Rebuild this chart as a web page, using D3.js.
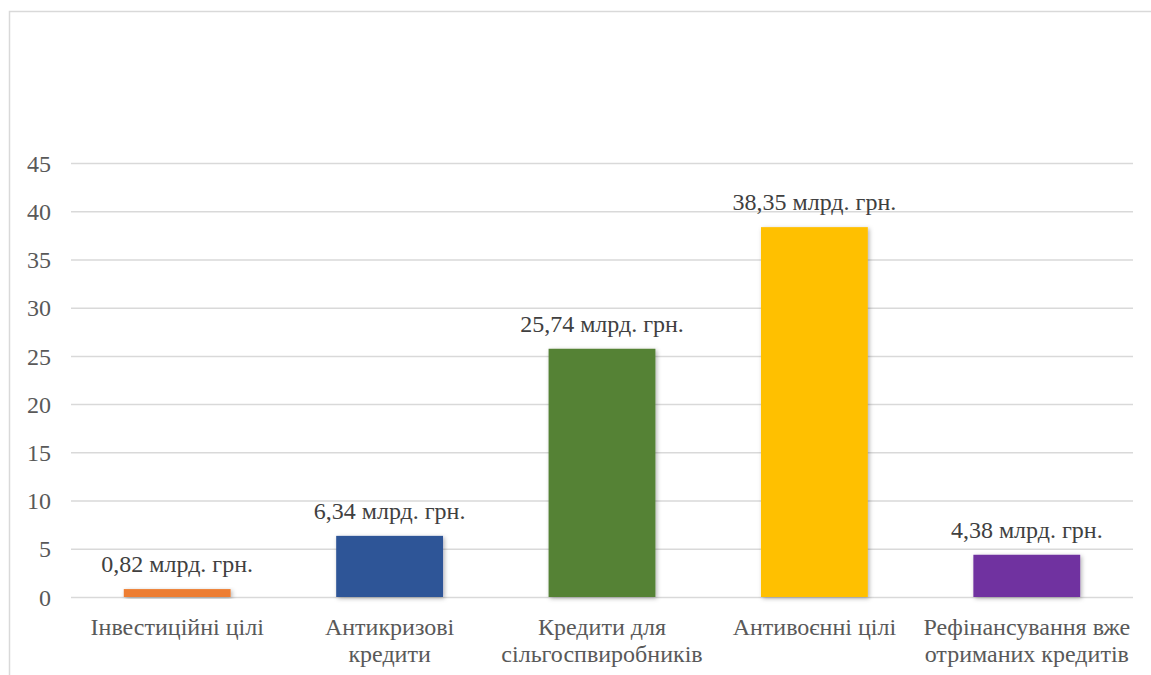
<!DOCTYPE html>
<html><head><meta charset="utf-8">
<script src="https://cdn.jsdelivr.net/npm/d3@7"></script>
<style>body{margin:0;background:#fff}svg{display:block}
svg text{font-family:"Liberation Serif";font-size:24px}</style>
</head><body>
<svg id="c" width="1151" height="675"></svg>
<script>
const categories = [["Інвестиційні цілі"], ["Антикризові", "кредити"], ["Кредити для", "сільгоспвиробників"], ["Антивоєнні цілі"], ["Рефінансування вже", "отриманих кредитів"]];
const values = [0.82, 6.34, 25.74, 38.35, 4.38];
const labels = ["0,82 млрд. грн.", "6,34 млрд. грн.", "25,74 млрд. грн.", "38,35 млрд. грн.", "4,38 млрд. грн."];
const colors = ["#ED7D31", "#2F5597", "#548235", "#FFC000", "#7030A0"];
const yTicks = [0, 5, 10, 15, 20, 25, 30, 35, 40, 45];

const svg = d3.select("#c");
svg.append("rect").attr("x", 9.5).attr("y", 11.5).attr("width", 1160).attr("height", 700)
  .attr("fill", "#fff").attr("stroke", "#d9d9d9").attr("stroke-width", 1.5);

const defs = svg.append("defs");
const f = defs.append("filter").attr("id", "sh").attr("x", "-20%").attr("y", "-20%").attr("width", "140%").attr("height", "140%");
f.append("feDropShadow").attr("dx", 1.5).attr("dy", 1.5).attr("stdDeviation", 2).attr("flood-color", "#000").attr("flood-opacity", 0.3);

const x = d3.scaleBand().domain(d3.range(values.length)).range([71, 1133]).paddingInner(0.497).paddingOuter(0.2485);
const y = d3.scaleLinear().domain([0, 45]).range([597, 163]);

const yAxis = svg.append("g").attr("transform", "translate(71,0)")
  .call(d3.axisLeft(y).tickValues(yTicks).tickSize(-1062).tickPadding(20));
yAxis.attr("font-family", null).attr("font-size", null);
yAxis.select(".domain").remove();
yAxis.selectAll(".tick line").attr("stroke", "#d9d9d9").attr("stroke-width", 1.5);
yAxis.selectAll(".tick text").attr("fill", "#595959").attr("dy", "0.34em");

svg.append("g").selectAll("text").data(values).join("text")
  .attr("x", (d, i) => x(i) + x.bandwidth() / 2).attr("y", d => y(d) - 17)
  .attr("text-anchor", "middle").attr("fill", "#404040")
  .text((d, i) => labels[i]);

svg.append("g").selectAll("rect").data(values).join("rect")
  .attr("x", (d, i) => x(i)).attr("width", x.bandwidth())
  .attr("y", d => y(d)).attr("height", d => y(0) - y(d))
  .attr("fill", (d, i) => colors[i]).attr("filter", "url(#sh)");

const cl = svg.append("g").selectAll("text").data(categories).join("text")
  .attr("text-anchor", "middle").attr("fill", "#595959");
cl.each(function(lines, i) {
  d3.select(this).selectAll("tspan").data(lines).join("tspan")
    .attr("x", x(i) + x.bandwidth() / 2).attr("y", (l, j) => 635 + j * 27).text(l => l);
});
</script>
</body></html>
